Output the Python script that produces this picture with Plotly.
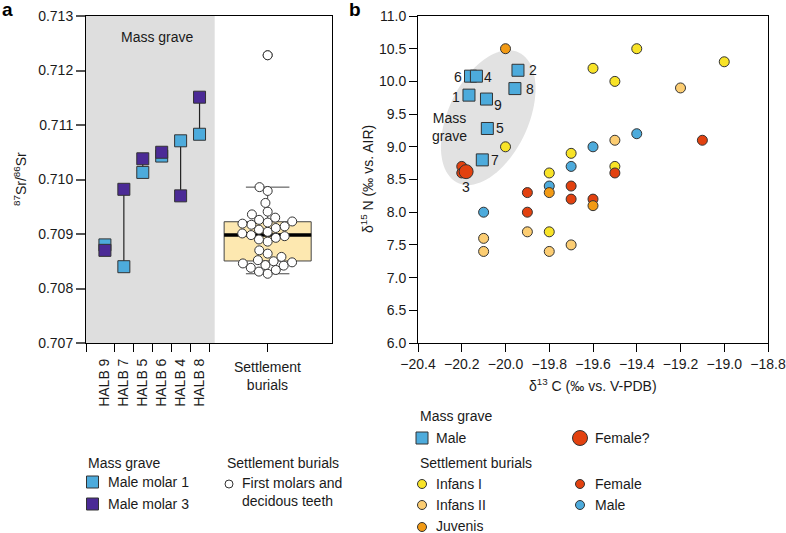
import numpy as np
import plotly.graph_objects as go

# ---------------- data : panel a (87Sr/86Sr) ----------------
halb_labels = ["HALB 9", "HALB 7", "HALB 5", "HALB 6", "HALB 4", "HALB 8"]
halb_molar1 = [0.70880, 0.70840, 0.71013, 0.71043, 0.71071, 0.71083]
halb_molar3 = [0.70870, 0.70982, 0.71038, 0.71050, 0.70970, 0.71151]
settlement_sr = [0.70827, 0.70831, 0.70834, 0.70838, 0.70842, 0.70843, 0.70846,
                 0.70848, 0.70850, 0.70852, 0.70858, 0.70864, 0.70870, 0.70886,
                 0.70890, 0.70893, 0.70896, 0.70898, 0.70901, 0.70904, 0.70908,
                 0.70911, 0.70914, 0.70917, 0.70919, 0.70921, 0.70923, 0.70926,
                 0.70930, 0.70936, 0.70941, 0.70957, 0.70979, 0.70986, 0.71228]
sr_ticks = [0.707, 0.708, 0.709, 0.710, 0.711, 0.712, 0.713]

# ---------------- data : panel b (d13C / d15N) ----------------
mg_male_d13c = [-20.16, -20.133, -19.943, -19.957, -20.167, -20.087, -20.083, -20.106]
mg_male_d15n = [10.08, 10.08, 10.17, 9.89, 9.79, 9.73, 9.28, 8.80]
mg_male_id = ["6", "4", "2", "8", "1", "9", "5", "7"]
mg_female_d13c = [-20.18]
mg_female_d15n = [8.62]
mg_female_id = ["3"]

infans1_d13c = [-20.0, -19.8, -19.7, -19.4, -19.6, -19.5, -19.0, -19.5, -19.8]
infans1_d15n = [9.0, 8.6, 8.9, 10.5, 10.2, 10.0, 10.3, 8.7, 7.7]
infans2_d13c = [-19.2, -19.5, -19.7, -20.1, -20.1, -19.9, -19.8]
infans2_d15n = [9.9, 9.1, 7.5, 7.6, 7.4, 7.7, 7.4]
juvenis_d13c = [-20.0, -19.8, -19.6]
juvenis_d15n = [10.5, 8.3, 8.1]
female_d13c = [-20.2, -20.2, -19.9, -19.9, -19.7, -19.7, -19.6, -19.5, -19.1]
female_d15n = [8.7, 8.6, 8.3, 8.0, 8.4, 8.2, 8.2, 8.6, 9.1]
male_d13c = [-20.1, -19.8, -19.7, -19.6, -19.4]
male_d15n = [8.0, 8.4, 8.7, 9.0, 9.2]

# ---------------- styles / layout ----------------
W, H = 786, 533
FONT = "Liberation Sans, Arial, Helvetica, sans-serif"
TXT = "#1a1a1a"
C_M1 = "#4DABDC"
C_M3 = "#4B2A96"
C_INF1 = "#F8E327"
C_INF2 = "#FCCD72"
C_JUV = "#F29A14"
C_FEM = "#E2410F"
C_MALE = "#4DABDC"
EDGE = "#333333"

A = dict(x0=86, x1=332, y0=16, y1=343)      # panel a plot area (px)
B = dict(x0=418, x1=768, y0=16, y1=343)     # panel b plot area (px)
A_XR = [0, 13]
B_XR = [-20.4, -18.8]
B_YR = [6, 11]


def px(x):
    return x / W


def py(y):
    return 1 - y / H


fig = go.Figure()

# ---------------- panel a ----------------
halb_x = list(range(1, len(halb_labels) + 1))
settle_x = 9.6
box_w = 4.6

# connecting lines
lx, ly = [], []
for x, a, b in zip(halb_x, halb_molar1, halb_molar3):
    lx += [x, x, None]
    ly += [a, b, None]
fig.add_trace(go.Scatter(x=lx, y=ly, mode="lines", line=dict(color="#222", width=1.2),
                         xaxis="x", yaxis="y", hoverinfo="skip", showlegend=False))
fig.add_trace(go.Scatter(x=halb_x, y=halb_molar1, mode="markers", name="Male molar 1",
                         marker=dict(symbol="square", size=12, color=C_M1, opacity=1,
                                     line=dict(color=EDGE, width=1)),
                         xaxis="x", yaxis="y", showlegend=False))
fig.add_trace(go.Scatter(x=halb_x, y=halb_molar3, mode="markers", name="Male molar 3",
                         marker=dict(symbol="square", size=12, color=C_M3, opacity=1,
                                     line=dict(color=EDGE, width=1)),
                         xaxis="x", yaxis="y", showlegend=False))

# box plot of settlement burials
fig.add_trace(go.Box(y=settlement_sr, x0=settle_x, width=box_w, boxpoints="outliers",
                     pointpos=0, jitter=0, whiskerwidth=0.5,
                     fillcolor="#FDE8B0", line=dict(color="#444", width=1),
                     marker=dict(color="white", size=9, line=dict(color=EDGE, width=1)),
                     xaxis="x", yaxis="y", showlegend=False, name="Settlement burials"))
med = float(np.median(settlement_sr))
fig.add_trace(go.Scatter(x=[settle_x - box_w / 2, settle_x + box_w / 2], y=[med, med],
                         mode="lines", line=dict(color="black", width=3.5),
                         xaxis="x", yaxis="y", hoverinfo="skip", showlegend=False))

# beeswarm offsets (in px) for settlement points
a_xs = (A["x1"] - A["x0"]) / (A_XR[1] - A_XR[0])
a_ys = (A["y1"] - A["y0"]) / (sr_ticks[-1] - sr_ticks[0])


def swarm(values, d):
    ys = np.asarray(values) * a_ys
    order = np.argsort(ys)
    placed = []
    offs = np.zeros(len(ys))
    for i in order:
        y = ys[i]
        near = [(qx, qy) for qx, qy in placed if abs(qy - y) < d]
        cands = [0.0]
        for qx, qy in near:
            dx = np.sqrt(d ** 2 - (qy - y) ** 2)
            cands += [qx + dx, qx - dx]
        cands.sort(key=lambda c: (abs(c), c))
        for c in cands:
            if all((c - qx) ** 2 + (y - qy) ** 2 >= d ** 2 - 1e-6 for qx, qy in near):
                offs[i] = c
                break
        placed.append((offs[i], y))
    return offs


offs = swarm(settlement_sr, 9.0)
fig.add_trace(go.Scatter(x=settle_x + offs / a_xs, y=settlement_sr, mode="markers",
                         marker=dict(color="white", size=9, opacity=1,
                                     line=dict(color=EDGE, width=1)),
                         xaxis="x", yaxis="y", showlegend=False, name="Settlement"))

# ---------------- panel b ----------------
b_xs = (B["x1"] - B["x0"]) / (B_XR[1] - B_XR[0])
b_ys = (B["y1"] - B["y0"]) / (B_YR[1] - B_YR[0])

for xs, ys, col, nm in [(infans1_d13c, infans1_d15n, C_INF1, "Infans I"),
                        (male_d13c, male_d15n, C_MALE, "Male"),
                        (female_d13c, female_d15n, C_FEM, "Female"),
                        (infans2_d13c, infans2_d15n, C_INF2, "Infans II"),
                        (juvenis_d13c, juvenis_d15n, C_JUV, "Juvenis")]:
    fig.add_trace(go.Scatter(x=xs, y=ys, mode="markers", name=nm,
                             marker=dict(size=10, color=col, opacity=1,
                                         line=dict(color=EDGE, width=1)),
                             xaxis="x2", yaxis="y2", showlegend=False))

fig.add_trace(go.Scatter(x=mg_male_d13c, y=mg_male_d15n, mode="markers",
                         marker=dict(symbol="square", size=12, color=C_M1, opacity=1,
                                     line=dict(color=EDGE, width=1)),
                         xaxis="x2", yaxis="y2", showlegend=False, name="Mass grave male"))
fig.add_trace(go.Scatter(x=mg_female_d13c, y=mg_female_d15n, mode="markers",
                         marker=dict(size=14, color=C_FEM, opacity=1,
                                     line=dict(color=EDGE, width=1)),
                         xaxis="x2", yaxis="y2", showlegend=False, name="Female?"))

# label offsets (px) for individual numbers
male_label_shift = [(-13, 1), (12, 1), (15, 0), (15, 0), (-13, 2), (12, 6), (13, 0), (13, 0)]
female_label_shift = [(0, 15)]

# grey ellipse around mass grave individuals
ecx, ecy = -20.079, 9.446
t = np.linspace(0, 2 * np.pi, 90)
ang = np.radians(65)
ea, eb = 72, 40
ex = ea * np.cos(t) * np.cos(ang) - eb * np.sin(t) * np.sin(ang)
ey = ea * np.cos(t) * np.sin(ang) + eb * np.sin(t) * np.cos(ang)
path = "M " + " L ".join(f"{ecx + u / b_xs:.5f},{ecy + v / b_ys:.5f}" for u, v in zip(ex, ey)) + " Z"

shapes = [
    dict(type="rect", xref="x", yref="y domain", x0=0, x1=6.8, y0=0, y1=1,
         fillcolor="#DEDEDE", line=dict(width=0), layer="below"),
    dict(type="path", xref="x2", yref="y2", path=path, fillcolor="#E2E2E2",
         line=dict(width=0), layer="below"),
]

# ---------------- legends (manual) ----------------
LEG_FONT = dict(family=FONT, size=14, color=TXT)
legend_markers = [
    # (x px, y px, symbol, size, color)
    (92.5, 482, "square", 12, C_M1),
    (92.5, 504, "square", 12, C_M3),
    (229, 484, "circle", 8, "white"),
    (422, 438, "square", 12, C_M1),
    (580, 438, "circle", 15, C_FEM),
    (422, 484, "circle", 9, C_INF1),
    (422, 505, "circle", 9, C_INF2),
    (422, 527, "circle", 9, C_JUV),
    (580, 484, "circle", 9, C_FEM),
    (580, 505, "circle", 9, C_MALE),
]
fig.add_trace(go.Scatter(x=[m[0] for m in legend_markers], y=[m[1] for m in legend_markers],
                         mode="markers", xaxis="x3", yaxis="y3", hoverinfo="skip",
                         showlegend=False,
                         marker=dict(symbol=[m[2] for m in legend_markers],
                                     size=[m[3] for m in legend_markers],
                                     color=[m[4] for m in legend_markers],
                                     opacity=1,
                                     line=dict(color=EDGE, width=1))))
legend_texts = [
    (86, 463, "Mass grave"),
    (105.5, 482, "Male molar 1"),
    (105.5, 504, "Male molar 3"),
    (225, 463, "Settlement burials"),
    (240, 492, "First molars and<br>decidous teeth"),
    (418, 416, "Mass grave"),
    (434, 438, "Male"),
    (593, 438, "Female?"),
    (418, 462.5, "Settlement burials"),
    (434, 484, "Infans I"),
    (434, 505, "Infans II"),
    (434, 526, "Juvenis"),
    (593, 484, "Female"),
    (593, 505, "Male"),
]
annotations = []
for x, y, s in legend_texts:
    annotations.append(dict(x=px(x), y=py(y), xref="paper", yref="paper", text=s,
                            showarrow=False, xanchor="left", yanchor="middle",
                            align="left", font=LEG_FONT))

# individual number labels in panel b
for xs, ys, ids, shifts in [(mg_male_d13c, mg_male_d15n, mg_male_id, male_label_shift),
                            (mg_female_d13c, mg_female_d15n, mg_female_id, female_label_shift)]:
    for x, y, s, (dx, dy) in zip(xs, ys, ids, shifts):
        annotations.append(dict(x=x, y=y, xref="x2", yref="y2", text=s, showarrow=False,
                                xanchor="center", yanchor="middle", xshift=dx, yshift=-dy,
                                font=LEG_FONT))

# other texts
annotations += [
    dict(x=3.8, y=0.71262, xref="x", yref="y", text="Mass grave", showarrow=False,
         xanchor="center", yanchor="middle", font=LEG_FONT),
    dict(x=settle_x, y=py(357), xref="x", yref="paper", text="Settlement<br>burials",
         showarrow=False, xanchor="center", yanchor="top", font=LEG_FONT),
    dict(x=-20.254, y=9.30, xref="x2", yref="y2", text="Mass<br>grave", showarrow=False,
         xanchor="center", yanchor="middle", font=LEG_FONT),
    dict(x=px(20), y=py(179), xref="paper", yref="paper", textangle=-90,
         xanchor="center", yanchor="middle",
         text="<sup>87</sup>Sr/<sup>86</sup>Sr", showarrow=False, font=LEG_FONT),
    dict(x=px(367), y=py(179), xref="paper", yref="paper", textangle=-90,
         xanchor="center", yanchor="middle",
         text="δ<sup>15</sup> N (‰ vs. AIR)", showarrow=False, font=LEG_FONT),
    dict(x=px(593), y=py(385), xref="paper", yref="paper", xanchor="center",
         yanchor="middle", text="δ<sup>13</sup> C (‰ vs. V-PDB)", showarrow=False,
         font=LEG_FONT),
    dict(x=px(0), y=py(10), xref="paper", yref="paper", text="<b>a</b>", showarrow=False,
         xanchor="left", yanchor="middle", font=dict(family=FONT, size=19, color="black")),
    dict(x=px(347), y=py(10), xref="paper", yref="paper", text="<b>b</b>", showarrow=False,
         xanchor="left", yanchor="middle", font=dict(family=FONT, size=19, color="black")),
]

TICKF = dict(family=FONT, size=14, color=TXT)
axis_common = dict(showgrid=False, zeroline=False, showline=True, linecolor="black",
                   linewidth=1, mirror=True, tickfont=TICKF, fixedrange=True,
                   automargin=False)

fig.update_layout(
    width=W, height=H,
    margin=dict(l=0, r=0, t=0, b=0, pad=0, autoexpand=False),
    paper_bgcolor="white", plot_bgcolor="rgba(0,0,0,0)",
    showlegend=False, shapes=shapes, annotations=annotations,
    xaxis=dict(domain=[px(A["x0"]), px(A["x1"])], range=A_XR, anchor="y",
               tickmode="array", tickvals=halb_x, ticktext=halb_labels, tickangle=-90,
               ticks="outside", ticklen=9, tickcolor="rgba(0,0,0,0)",
               minor=dict(tickmode="array",
                          tickvals=[0, 1.5, 2.5, 3.5, 4.5, 5.5, 6.5, settle_x],
                          ticks="outside", ticklen=8, tickcolor="black", tickwidth=1,
                          showgrid=False),
               **axis_common),
    yaxis=dict(domain=[py(A["y1"]), py(A["y0"])], range=[sr_ticks[0], sr_ticks[-1]],
               anchor="x", tickmode="array", tickvals=sr_ticks,
               ticktext=[f"{v:.3f}" for v in sr_ticks],
               ticks="outside", ticklen=9, tickcolor="#555", tickwidth=1.5,
               **axis_common),
    xaxis2=dict(domain=[px(B["x0"]), px(B["x1"])], range=B_XR, anchor="y2",
                tick0=-20.4, dtick=0.2, tickformat=".1f",
                ticks="outside", ticklen=8, tickcolor="black", **axis_common),
    yaxis2=dict(domain=[py(B["y1"]), py(B["y0"])], range=B_YR, anchor="x2",
                tick0=6, dtick=0.5, tickformat=".1f",
                ticks="outside", ticklen=8, tickcolor="black", **axis_common),
    xaxis3=dict(domain=[0, 1], range=[0, W], anchor="y3", visible=False, fixedrange=True),
    yaxis3=dict(domain=[0, 1], range=[H, 0], anchor="x3", visible=False, fixedrange=True),
)

fig.write_html("out.html", config={"displayModeBar": False},
               post_script="document.body.style.margin='0';document.body.style.padding='0';")
